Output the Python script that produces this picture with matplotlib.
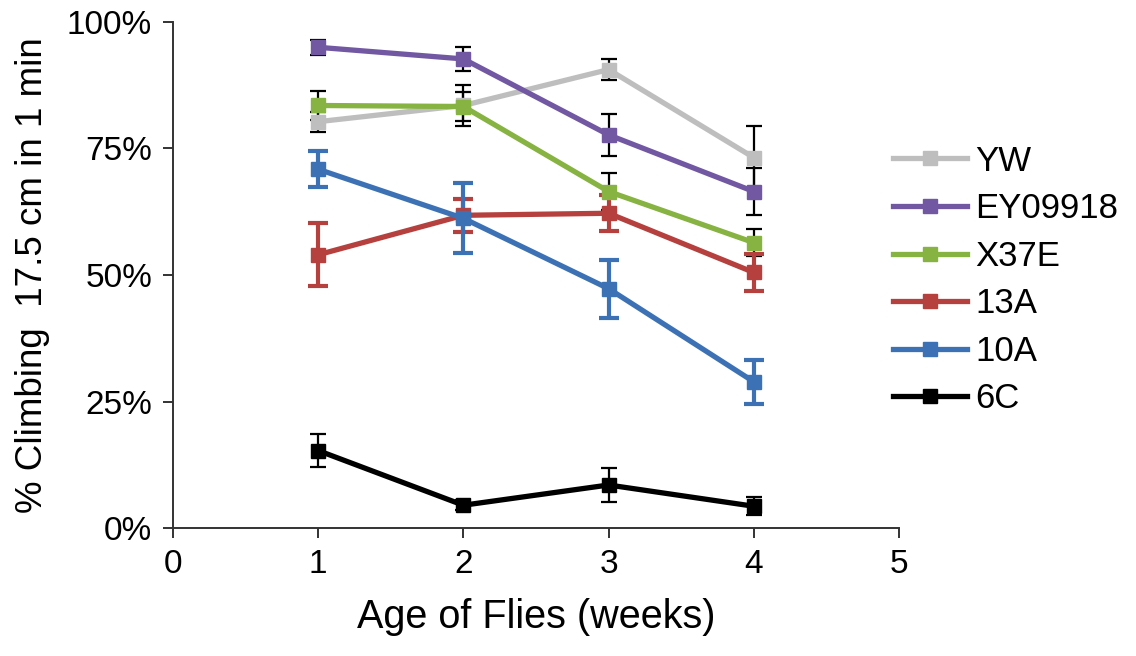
import matplotlib
matplotlib.use("Agg")
from matplotlib import pyplot as plt
from matplotlib.lines import Line2D
from matplotlib.ticker import FuncFormatter

plt.rcParams['font.family'] = ['Liberation Sans', 'DejaVu Sans']

weeks = [1, 2, 3, 4]
labels = ["YW", "EY09918", "X37E", "13A", "10A", "6C"]

yw = [80.3, 83.5, 90.6, 73.2]
yw_err = [2.0, 4.0, 2.1, 6.2]
ey09918 = [95.0, 92.7, 77.7, 66.5]
ey09918_err = [1.5, 2.3, 4.1, 4.6]
x37e = [83.5, 83.3, 66.5, 56.4]
x37e_err = [2.9, 2.8, 3.6, 2.6]
a13 = [54.0, 61.8, 62.2, 50.5]
a13_err = [6.2, 3.3, 3.6, 3.7]
a10 = [70.9, 61.2, 47.3, 28.9]
a10_err = [3.6, 6.9, 5.7, 4.4]
c6 = [15.3, 4.5, 8.5, 4.3]
c6_err = [3.2, 1.0, 3.4, 1.8]

series = [yw, ey09918, x37e, a13, a10, c6]
errors = [yw_err, ey09918_err, x37e_err, a13_err, a10_err, c6_err]
colors = ["#BEBEBE", "#7257A2", "#86B341", "#B5403D", "#3C72B5", "#000000"]
err_colors = ["#000000", "#000000", "#000000", "#B5403D", "#3C72B5", "#000000"]

fig = plt.figure(figsize=(11.36, 6.56), dpi=100)
ax = fig.add_axes([173/1136, 1 - 528/656, (899 - 173)/1136, (528 - 22)/656])

handles = []
for vals, errs, col, ecol, lab in zip(series, errors, colors, err_colors, labels):
    colored = ecol != "#000000"
    ax.errorbar(weeks, vals, yerr=errs, color=col, lw=3.8,
                marker="s", markersize=10, ecolor=ecol,
                elinewidth=3 if colored else 1.6,
                capsize=7 if colored else 6,
                capthick=3 if colored else 1.6)
    handles.append(Line2D([], [], color=col, lw=3.8, marker="s", markersize=10))

ax.set_xlim(0, 5)
ax.set_ylim(0, 100)
ax.set_xticks([0, 1, 2, 3, 4, 5])
ax.set_yticks([0, 25, 50, 75, 100])
ax.yaxis.set_major_formatter(FuncFormatter(lambda v, p: f"{v:.0f}%"))

for s in ["top", "right"]:
    ax.spines[s].set_visible(False)
for s in ["left", "bottom"]:
    ax.spines[s].set_color("#333333")
    ax.spines[s].set_linewidth(1.4)
ax.tick_params(axis="both", direction="out", length=7, width=1.4,
               color="#333333", labelsize=24, pad=8)

ax.set_xlabel("Age of Flies (weeks)", fontsize=28.5, labelpad=13)
ax.set_ylabel("% Climbing  17.5 cm in 1 min", fontsize=26.5, labelpad=12)

fig.legend(handles=handles, labels=labels, loc="center left",
           bbox_to_anchor=(893/1136, 1 - 280/656), frameon=False,
           fontsize=25, handlelength=2.13, handletextpad=0.23,
           labelspacing=0.42, borderpad=0, borderaxespad=0)

fig.savefig("out.png", dpi=100)
